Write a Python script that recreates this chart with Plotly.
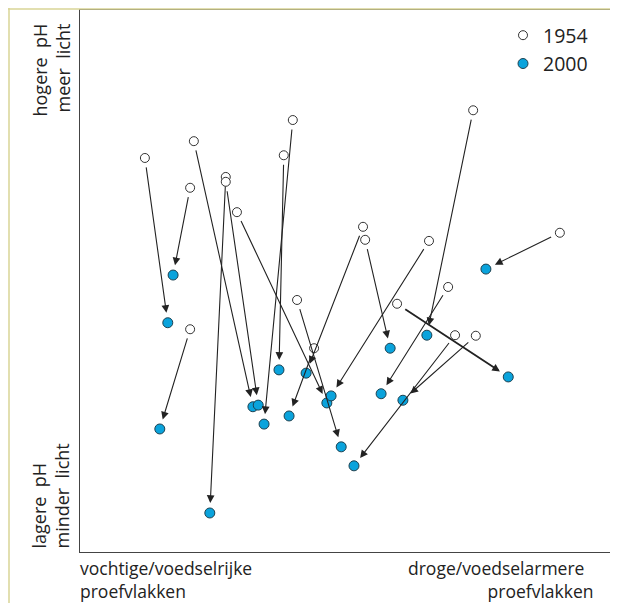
import plotly.graph_objects as go

# Plot positions (arbitrary 0-100 units), pairs 1954 -> 2000
x1954 = [12.2, 20.7, 21.4, 27.4, 27.4, 29.5, 38.3, 40.0, 53.2, 53.6, 65.6, 90.2, 73.9, 40.8, 44.0, 20.7, 69.2, 59.6, 70.5, 74.4]
y1954 = [72.7, 67.2, 75.8, 69.2, 68.3, 62.7, 73.2, 79.7, 60.0, 57.6, 57.4, 58.9, 81.5, 46.5, 37.6, 41.1, 48.9, 45.8, 40.0, 39.9]
x2000 = [16.5, 17.5, 32.5, 24.4, 33.5, 46.4, 37.4, 34.6, 42.5, 58.3, 47.2, 76.3, 65.2, 49.1, 39.3, 15.0, 56.6, 80.5, 51.5, 60.7]
y2000 = [42.3, 51.1, 26.8, 7.2, 27.1, 27.5, 33.6, 23.6, 33.0, 37.6, 28.8, 52.2, 40.0, 19.4, 25.1, 22.7, 29.2, 32.3, 15.9, 28.0]
series_names = ["1954", "2000"]

OFF = 8  # page body offset
W, H = 618 - OFF, 603 - OFF
ML, MR, MT, MB = 80 - OFF, 6, 10 - OFF, 51
PW, PH = W - ML - MR, H - MT - MB

def px(x):
    return (x - OFF - ML) / PW

def py(y):
    return (H - MB - (y - OFF)) / PH

FONT = "Open Sans"
TXT = "#222222"
fig = go.Figure()

# arrows
for i in range(len(x1954)):
    thick = (i == 17)
    fig.add_annotation(
        x=x2000[i], y=y2000[i], ax=x1954[i], ay=y1954[i],
        xref="x", yref="y", axref="x", ayref="y",
        text="", showarrow=True, arrowhead=2,
        arrowsize=0.85 if thick else 1.4,
        arrowwidth=1.8 if thick else 1.1, arrowcolor="#222222",
        standoff=10, startstandoff=8,
    )

fig.add_trace(go.Scatter(
    x=x1954, y=y1954, mode="markers", name=series_names[0],
    marker=dict(symbol="circle", size=9, color="white",
                line=dict(color="#333333", width=1)),
))
fig.add_trace(go.Scatter(
    x=x2000, y=y2000, mode="markers", name=series_names[1],
    marker=dict(symbol="circle", size=10, color="#0aa3dc",
                line=dict(color="#1d4150", width=1)),
))

# axis side labels
fig.add_annotation(xref="paper", yref="paper", x=px(51), y=py(22), xanchor="center", yanchor="top",
                   text="hogere\u00a0\u00a0pH<br>meer\u00a0\u00a0licht", textangle=-90, align="right",
                   showarrow=False, font=dict(family=FONT, size=18, color=TXT))
fig.add_annotation(xref="paper", yref="paper", x=px(50), y=py(551), xanchor="center", yanchor="bottom",
                   text="lagere\u00a0\u00a0pH<br>minder\u00a0\u00a0licht", textangle=-90, align="left",
                   showarrow=False, font=dict(family=FONT, size=18, color=TXT))
fig.add_annotation(xref="paper", yref="paper", x=px(78), y=py(579), xanchor="left", yanchor="middle",
                   text="vochtige/voedselrijke<br>proefvlakken", align="left", showarrow=False,
                   font=dict(family=FONT, size=17.5, color=TXT))
fig.add_annotation(xref="paper", yref="paper", x=px(596), y=py(579), xanchor="right", yanchor="middle",
                   text="droge/voedselarmere\u00a0\u00a0<br>proefvlakken", align="right", showarrow=False,
                   font=dict(family=FONT, size=17.5, color=TXT))

# outer yellow frame
fig.add_shape(type="line", xref="paper", yref="paper", x0=px(8), x1=px(620), y0=py(9), y1=py(9),
              line=dict(color="#d8d496", width=1.5))
fig.add_shape(type="line", xref="paper", yref="paper", x0=px(9), x1=px(9), y0=py(8), y1=py(605),
              line=dict(color="#d8d496", width=1.5))

axis = dict(range=[0, 100], showgrid=False, zeroline=False, showticklabels=False, ticks="",
            showline=True, mirror=True, linecolor="#444444", linewidth=1, fixedrange=True)
fig.update_layout(
    width=W, height=H, margin=dict(l=ML, r=MR, t=MT, b=MB),
    paper_bgcolor="white", plot_bgcolor="white",
    xaxis=axis, yaxis=axis,
    legend=dict(x=px(503), y=py(16), xanchor="left", yanchor="top",
                font=dict(family=FONT, size=19.5, color=TXT), bgcolor="rgba(0,0,0,0)"),
    font=dict(family=FONT),
)
fig.write_html("out.html")
